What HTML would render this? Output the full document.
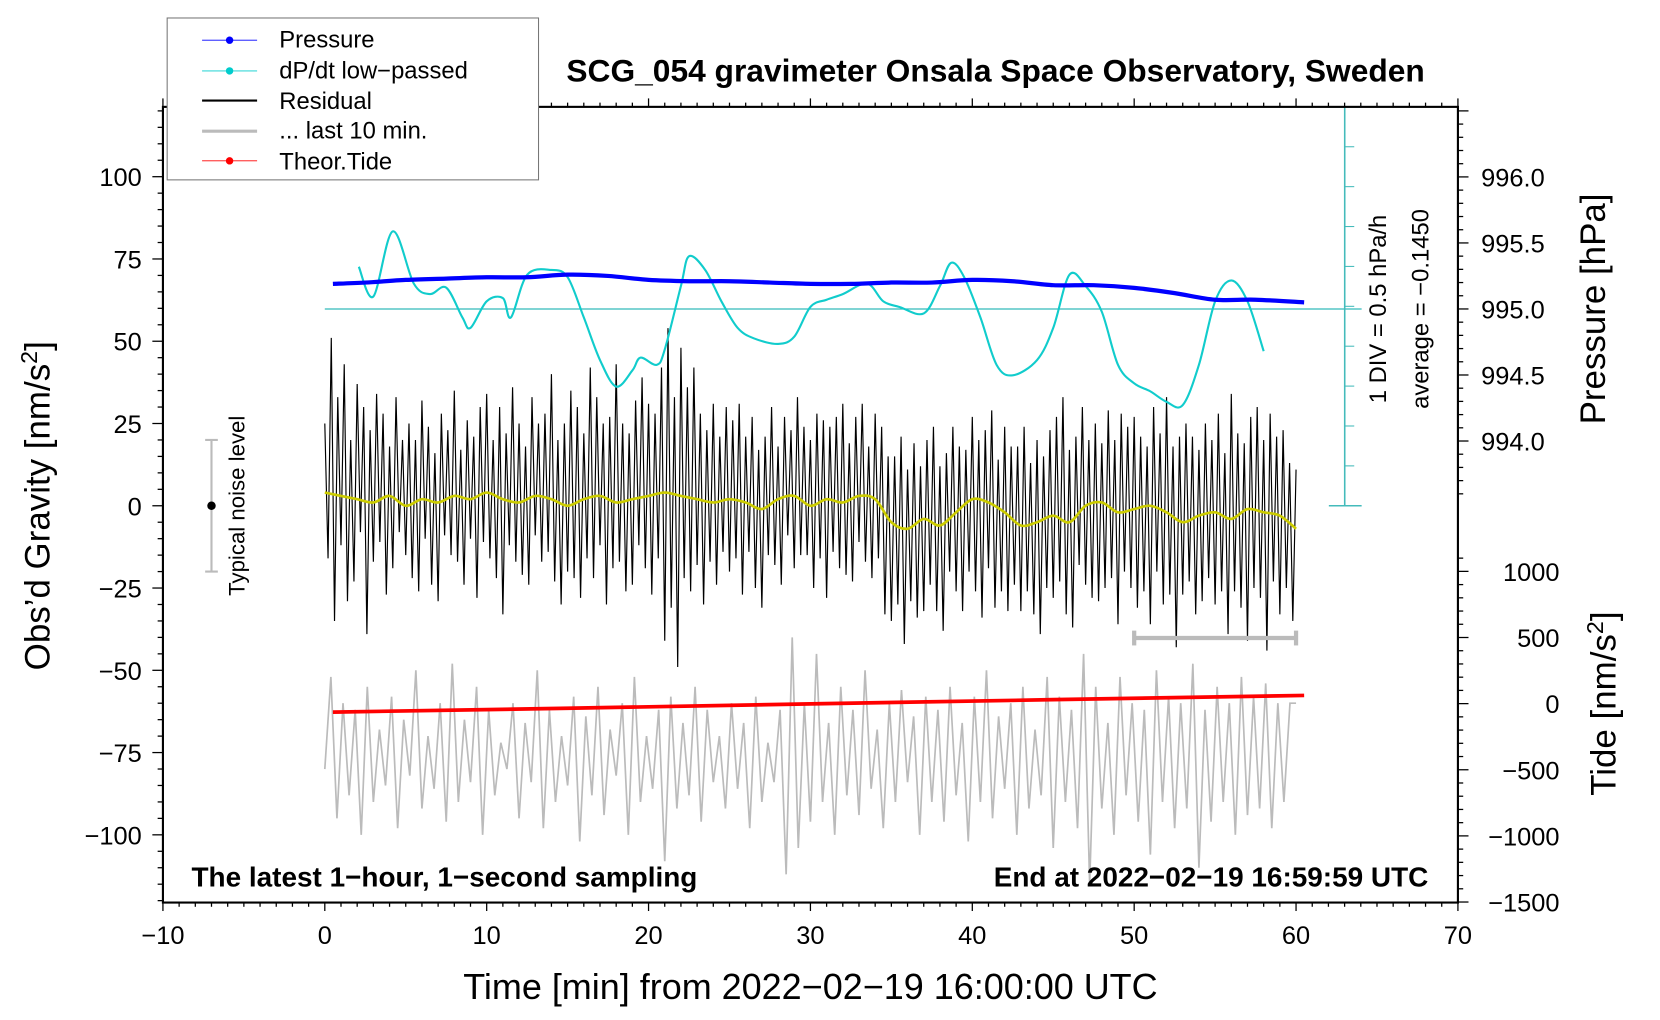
<!DOCTYPE html>
<html><head><meta charset="utf-8"><style>
html,body{margin:0;padding:0;background:#fff;}
svg{display:block;font-family:"Liberation Sans",sans-serif;}
</style></head><body>
<svg id="chart" width="1660" height="1020" viewBox="0 0 1569 964" preserveAspectRatio="none" xmlns="http://www.w3.org/2000/svg">
<rect x="0" y="0" width="1569" height="964" fill="#fff"/>
<g id="marks"></g>
<g id="axes"></g>
<text x="941" y="77" font-size="30" font-weight="bold" text-anchor="middle">SCG_054 gravimeter Onsala Space Observatory, Sweden</text>
<text x="181" y="838" font-size="26.4" font-weight="bold">The latest 1−hour, 1−second sampling</text>
<text x="1350" y="838" font-size="26.4" font-weight="bold" text-anchor="end">End at 2022−02−19 16:59:59 UTC</text>
<text x="766" y="944" font-size="34" text-anchor="middle">Time [min] from 2022−02−19 16:00:00 UTC</text>
<text transform="translate(47,478) rotate(-90)" font-size="33" text-anchor="middle">Obs’d Gravity [nm/s<tspan font-size="22" dy="-12">2</tspan><tspan dy="12">]</tspan></text>
<text transform="translate(1517,292) rotate(-90)" font-size="33" text-anchor="middle">Pressure [hPa]</text>
<text transform="translate(1527,665) rotate(-90)" font-size="33" text-anchor="middle">Tide [nm/s<tspan font-size="22" dy="-12">2</tspan><tspan dy="12">]</tspan></text>
<text transform="translate(231,478) rotate(-90)" font-size="21" text-anchor="middle">Typical noise level</text>
<text transform="translate(1310,292) rotate(-90)" font-size="22.5" text-anchor="middle">1 DIV = 0.5 hPa/h</text>
<text transform="translate(1350,292) rotate(-90)" font-size="22.5" text-anchor="middle">average = −0.1450</text>
<g>
<rect x="158" y="17" width="351" height="153" fill="#fff" stroke="#777" stroke-width="1"/>
<line x1="191" y1="38" x2="243" y2="38" stroke="#00f" stroke-width="0.8"/><circle cx="217" cy="38" r="3.5" fill="#00f"/>
<text x="264" y="45" font-size="22.5">Pressure</text>
<line x1="191" y1="67" x2="243" y2="67" stroke="#0cc" stroke-width="0.8"/><circle cx="217" cy="67" r="3.5" fill="#0cc"/>
<text x="264" y="74" font-size="22.5">dP/dt low−passed</text>
<line x1="191" y1="95" x2="243" y2="95" stroke="#000" stroke-width="2"/>
<text x="264" y="103" font-size="22.5">Residual</text>
<line x1="191" y1="124" x2="243" y2="124" stroke="#bbb" stroke-width="3"/>
<text x="264" y="131" font-size="22.5">... last 10 min.</text>
<line x1="191" y1="152" x2="243" y2="152" stroke="#f00" stroke-width="0.8"/><circle cx="217" cy="152" r="3.5" fill="#f00"/>
<text x="264" y="160" font-size="22.5">Theor.Tide</text>
</g>
</svg>
<script>
const residualValues=[21,-20,47,-38,30,-15,40,-32,18,-25,35,-10,28,-40,22,-18,33,-12,25,-30,15,-22,30,-8,20,
-15,25,-22,18,-28,30,-12,22,-25,15,-30,27,-10,20,-18,32,-20,14,-26,24,-12,19,-30,26,-15,
30,-20,16,-24,28,-35,20,-14,35,-18,24,-22,17,-27,30,-12,22,-20,26,-16,38,-25,18,-30,25,
-20,35,-22,28,-30,20,-18,40,-25,30,-15,22,-33,26,-20,42,-18,24,-28,20,-26,30,-14,36,-22,
28,-30,25,-20,38,-45,50,-35,30,-52,45,-25,33,-28,40,-20,26,-32,22,-18,30,-25,20,-16,28,
-22,24,-18,30,-28,20,-15,26,-24,18,-30,22,-14,28,-20,16,-26,25,-12,20,-22,30,-18,24,-15,
20,-25,28,-18,24,-30,22,-16,26,-20,30,-22,18,-26,24,-14,28,-20,16,-24,26,-18,22,-28,20,
-30,20,-25,28,-35,18,-22,26,-30,16,-28,24,-20,30,-26,18,-32,22,-18,26,-24,20,-30,15,-22,
25,-28,18,-35,22,-20,28,-32,16,-24,26,-30,20,-18,24,-26,30,-20,18,-28,25,-34,20,-22,26,
-25,30,-20,38,-28,22,-32,26,-18,30,-24,20,-28,24,-30,18,-26,28,-20,22,-34,30,-18,25,-24,
28,-30,22,-26,18,-36,30,-20,24,-28,35,-25,20,-38,26,-22,30,-18,24,-30,20,-26,28,-20,22,
-28,30,-24,20,-35,38,-22,26,-30,20,-40,28,-24,32,-26,22,-42,30,-20,24,-30,26,-22,20,-28,18];
const smoothValues=[4,3,2,1,3,0,2,1,3,2,4,2,1,3,2,0,2,3,1,2,3,4,3,2,1,2,1,-1,2,3,0,2,1,3,2,-5,-7,-4,-6,-2,2,1,-2,-6,-5,-3,-5,0,1,-2,-1,0,-2,-5,-3,-2,-4,-1,-2,-3,-7];
const last10Values=[-80,-52,-95,-60,-88,-62,-100,-55,-90,-68,-85,-58,-98,-65,-82,-50,-92,-70,-86,-60,
-96,-48,-90,-65,-84,-55,-100,-62,-88,-72,-80,-60,-95,-66,-84,-50,-98,-62,-90,-70,
-85,-58,-102,-64,-88,-55,-94,-68,-82,-60,-100,-52,-90,-70,-86,-62,-108,-58,-92,-66,
-88,-55,-96,-62,-84,-70,-92,-60,-86,-66,-98,-58,-90,-72,-84,-62,-112,-40,-104,-60,
-96,-45,-90,-66,-100,-55,-88,-62,-94,-50,-86,-68,-98,-60,-90,-56,-84,-64,-100,-58,
-90,-62,-96,-55,-88,-66,-102,-58,-90,-50,-95,-64,-86,-60,-100,-55,-92,-68,-88,-52,
-104,-58,-90,-62,-98,-45,-115,-55,-92,-66,-100,-52,-88,-60,-96,-62,-106,-50,-90,-58,
-98,-60,-92,-48,-110,-62,-96,-55,-90,-60,-100,-52,-94,-58,-92,-54,-98,-60,-90,-60,-60];
const pressureTimes=[0.5,2.5,5,7.5,10,12.5,15,17.5,20,22.5,25,27.5,30,32.5,35,37.5,40,42.5,45,47.5,50,52.5,55,57.5,60.5];
const pressureValues=[995.19,995.2,995.22,995.23,995.24,995.24,995.26,995.25,995.22,995.21,995.21,995.2,995.19,995.19,995.2,995.2,995.22,995.21,995.18,995.18,995.16,995.12,995.07,995.07,995.05];
const dpdtTimes=[2.1,3,4.2,5.5,6.5,7.5,8.5,9,10,11,11.5,12.5,14,15,16,17,18,19,19.5,20.5,21,22,22.5,23.5,24.5,25.5,26.5,28,29,30,31,32,33.5,34.5,35.5,37,38,38.7,39.5,40.5,41.5,42.5,44,45,46,47,48,49,50,51,52,53,54,55,56,57,58];
const dpdtValues=[0.38,0.01,0.82,0.17,0.04,0.12,-0.25,-0.38,-0.05,-0.01,-0.25,0.28,0.34,0.25,-0.25,-0.78,-1.11,-0.91,-0.75,-0.84,-0.65,0.14,0.51,0.34,-0.05,-0.38,-0.51,-0.58,-0.49,-0.12,-0.03,0.04,0.17,-0.05,-0.12,-0.20,0.14,0.43,0.25,-0.25,-0.84,-0.97,-0.78,-0.38,0.28,0.14,-0.18,-0.84,-1.07,-1.17,-1.30,-1.34,-0.84,-0.05,0.21,-0.05,-0.67];
const tideTimes=[0.5,15,30,45,60.5];
const tideValues=[-64,-35,-2,30,62];
const xTicks=[-10,0,10,20,30,40,50,60,70];
const yTicks=[100,75,50,25,0,-25,-50,-75,-100];
const pTicks=["996.0","995.5","995.0","994.5","994.0"];
const tTicks=[1000,500,0,-500,-1000,-1500];
const dpdtAverage=-0.145;

const NS="http://www.w3.org/2000/svg";
const X=t=>307+t*15.3;
const Y=v=>478-v*3.11;
const P=p=>292-(p-995)*124.8;
const T=v=>665-v*0.125;
const C=v=>292-(v-dpdtAverage)*76;
const marks=document.getElementById('marks');
const axes=document.getElementById('axes');
function mk(tag,attrs,parent){const e=document.createElementNS(NS,tag);for(const k in attrs)e.setAttribute(k,attrs[k]);(parent||marks).appendChild(e);return e;}
function line(x1,y1,x2,y2,stroke,w,parent){return mk('line',{x1,y1,x2,y2,stroke,'stroke-width':w},parent);}
function smoothPath(pts){let d='M'+pts[0][0]+','+pts[0][1];for(let i=0;i<pts.length-1;i++){const p0=pts[i-1]||pts[i],p1=pts[i],p2=pts[i+1],p3=pts[i+2]||p2;d+=' C'+(p1[0]+(p2[0]-p0[0])/6)+','+(p1[1]+(p2[1]-p0[1])/6)+' '+(p2[0]-(p3[0]-p1[0])/6)+','+(p2[1]-(p3[1]-p1[1])/6)+' '+p2[0]+','+p2[1];}return d;}

let g=last10Values.map((v,i)=>X(i*60/(last10Values.length-1))+','+Y(v)).join(' ');
let e=mk('polyline',{points:g,fill:'none',stroke:'#bbb','stroke-width':1.6});


g=residualValues.map((v,i)=>X(i*60/(residualValues.length-1))+','+Y(v+smoothValues[Math.round(i*60/(residualValues.length-1))])).join(' ');
e=mk('polyline',{points:g,fill:'none',stroke:'#000','stroke-width':1.1});


e=mk('path',{d:smoothPath(smoothValues.map((v,i)=>[X(i),Y(v)])),fill:'none',stroke:'#cc0','stroke-width':2.5});


e=line(X(0),C(dpdtAverage),1287,C(dpdtAverage),'#3bb',1.2);


e=mk('g',{});


line(1271,101,1271,478,'#4bb',1.5,e);
line(1256,101,1287,101,'#4bb',1.5,e);line(1256,478,1287,478,'#4bb',1.5,e);
for(let k=1;k<10;k++)line(1271,101+k*37.7,1280,101+k*37.7,'#4bb',1,e);
e=mk('path',{d:smoothPath(dpdtTimes.map((t,i)=>[X(t),C(dpdtValues[i])])),fill:'none',stroke:'#1cc','stroke-width':2});


e=mk('path',{d:smoothPath(pressureTimes.map((t,i)=>[X(t),P(pressureValues[i])])),fill:'none',stroke:'#00f','stroke-width':4});


e=mk('polyline',{points:tideTimes.map((t,i)=>X(t)+','+T(tideValues[i])).join(' '),fill:'none',stroke:'#f00','stroke-width':3.5});


e=mk('g',{});


line(X(-7),Y(20),X(-7),Y(-20),'#bbb',2,e);line(X(-7)-6,Y(20),X(-7)+6,Y(20),'#bbb',2,e);line(X(-7)-6,Y(-20),X(-7)+6,Y(-20),'#bbb',2,e);
mk('circle',{cx:X(-7),cy:Y(0),r:4,fill:'#000'},e);
e=mk('g',{});


line(X(50),603,X(60),603,'#bbb',4,e);line(X(50),596,X(50),610,'#bbb',4,e);line(X(60),596,X(60),610,'#bbb',4,e);

e=mk('rect',{x:154,y:101,width:1224,height:752,fill:'none',stroke:'#000','stroke-width':2},axes);


for(let t=-10;t<=70;t++){const maj=t%10===0;line(X(t),853,X(t),853+(maj?8:4),'#000',1.2,axes);line(X(t),101,X(t),101-(maj?8:4),'#000',1.2,axes);}
xTicks.forEach(t=>{const s=mk('text',{x:X(t),y:892,'font-size':24,'text-anchor':'middle'},axes);s.textContent=String(t).replace('-','−');

});
for(let v=-120;v<=120;v+=5){const maj=v%25===0;line(154,Y(v),154-(maj?10:5),Y(v),'#000',1.2,axes);}
yTicks.forEach(v=>{const s=mk('text',{x:134,y:Y(v)+9,'font-size':24,'text-anchor':'end'},axes);s.textContent=String(v).replace('-','−');

});
for(let p=993.5;p<=996.55;p+=0.1){const maj=Math.abs(p*2-Math.round(p*2))<0.01;const y=P(p);if(y>101&&y<478)line(1378,y,1378+(maj?10:5),y,'#000',1.2,axes);}
pTicks.forEach(p=>{const s=mk('text',{x:1400,y:P(parseFloat(p))+9,'font-size':24},axes);s.textContent=p;

});
for(let v=-1500;v<=1100;v+=100){const y=T(v);if(y>=478&&y<=853)line(1378,y,1378+(v%500===0?10:5),y,'#000',1.2,axes);}
tTicks.forEach(v=>{const s=mk('text',{x:1474,y:T(v)+9,'font-size':24,'text-anchor':'end'},axes);s.textContent=String(v).replace('-','−');

});
</script>
</body></html>
